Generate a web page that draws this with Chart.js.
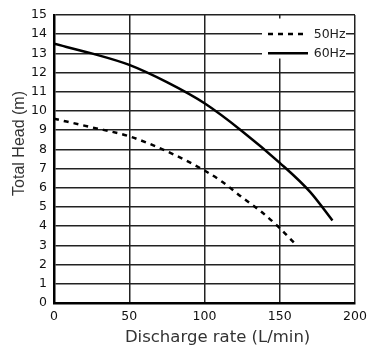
<!DOCTYPE html>
<html>
<head>
<meta charset="utf-8">
<script src="https://cdn.jsdelivr.net/npm/chart.js@4/dist/chart.umd.min.js"></script>
<style>
html,body{margin:0;padding:0;background:#fff;}
#wrap{width:377px;height:353px;position:relative;}
</style>
</head>
<body>
<div id="wrap"><canvas id="c"></canvas></div>
<script>
// ---- data ----
const flow50 = [0, 25, 50, 75, 100, 112, 125, 137, 150, 160];
const head50 = [9.6, 9.15, 8.68, 7.9, 6.9, 6.3, 5.5, 4.8, 3.9, 3.1];
const flow60 = [0, 25, 50, 75, 100, 125, 150, 170, 185];
const head60 = [13.5, 13.0, 12.4, 11.5, 10.4, 8.95, 7.3, 5.8, 4.3];
const xTickValues = [0, 50, 100, 150, 200];
const yTickValues = [0,1,2,3,4,5,6,7,8,9,10,11,12,13,14,15];
const seriesNames = ['50Hz', '60Hz'];
const xTitle = 'Discharge rate (L/min)';
const yTitle = 'Total Head (m)';

const toPoints = (xs, ys) => xs.map((x, i) => ({x: x, y: ys[i]}));

const insideLegend = {
  id: 'insideLegend',
  afterDatasetsDraw(chart) {
    const {ctx, chartArea: a} = chart;
    ctx.save();
    ctx.fillStyle = '#fff';
    ctx.fillRect(a.right - 93, a.top + 3.5, 84, 40);
    chart.data.datasets.forEach((ds, i) => {
      const yy = a.top + 19 + i * 19.3;
      ctx.beginPath();
      ctx.setLineDash(ds.borderDash || []);
      ctx.lineWidth = 2.5;
      ctx.strokeStyle = ds.borderColor;
      ctx.moveTo(a.right - 87, yy);
      ctx.lineTo(a.right - 47, yy);
      ctx.stroke();
      ctx.setLineDash([]);
      ctx.fillStyle = '#222';
      ctx.font = '12.5px "DejaVu Sans"';
      ctx.textBaseline = 'middle';
      ctx.textAlign = 'left';
      ctx.fillText(ds.label, a.right - 41.3, yy + 0.5);
    });
    ctx.restore();
  }
};

new Chart(document.getElementById('c'), {
  type: 'line',
  data: {
    datasets: [
      {
        label: seriesNames[0],
        data: toPoints(flow50, head50),
        borderColor: '#000',
        borderWidth: 2.5,
        borderDash: [5, 5],
        pointRadius: 0,
        fill: false,
        cubicInterpolationMode: 'monotone'
      },
      {
        label: seriesNames[1],
        data: toPoints(flow60, head60),
        borderColor: '#000',
        borderWidth: 2.5,
        pointRadius: 0,
        fill: false,
        cubicInterpolationMode: 'monotone'
      }
    ]
  },
  options: {
    responsive: true,
    maintainAspectRatio: false,
    animation: false,
    layout: {padding: {top: 15, right: 22, left: 0, bottom: 0}},
    plugins: {legend: {display: false}, tooltip: {enabled: false}},
    scales: {
      x: {
        type: 'linear',
        min: 0, max: 200,
        afterBuildTicks: s => { s.ticks = xTickValues.map(v => ({value: v})); },
        afterFit: s => { s.height = 50; },
        grid: {color: '#222', lineWidth: 1.5, drawTicks: false},
        border: {color: '#000', width: 2.5},
        ticks: {color: '#111', padding: 6, font: {family: '"DejaVu Sans"', size: 12.5}},
        title: {
          display: true,
          text: '     ' + xTitle,
          color: '#333',
          padding: {top: 0, bottom: 5},
          font: {family: '"DejaVu Sans"', size: 16.5}
        }
      },
      y: {
        type: 'linear',
        min: 0, max: 15,
        afterBuildTicks: s => { s.ticks = yTickValues.map(v => ({value: v})); },
        afterFit: s => { s.width = 54; },
        grid: {color: '#222', lineWidth: 1.5, drawTicks: false},
        border: {color: '#000', width: 2.5},
        ticks: {color: '#111', padding: 7, font: {family: '"DejaVu Sans"', size: 12.5}},
        title: {
          display: true,
          text: '       ' + yTitle,
          color: '#333',
          padding: {top: 10, bottom: 0},
          font: {family: '"Liberation Sans"', size: 16}
        }
      }
    }
  },
  plugins: [insideLegend]
});
</script>
</body>
</html>
